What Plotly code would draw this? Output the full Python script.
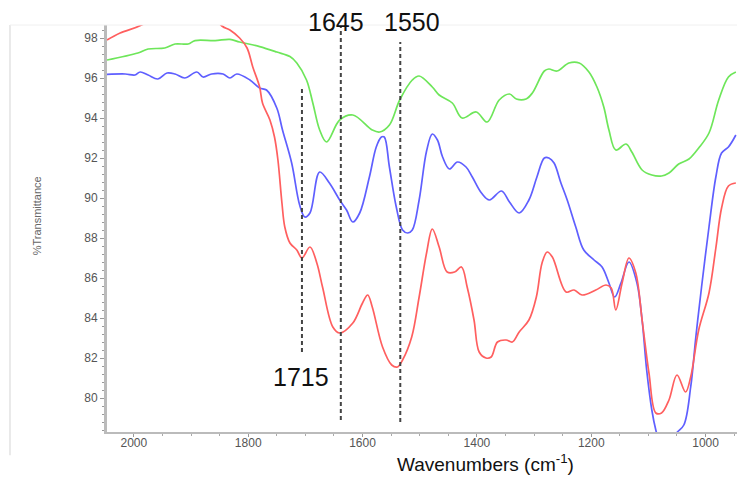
import plotly.graph_objects as go

# ---- data (wavenumber cm^-1, %T) ----
green_x = [2047, 1993, 1975, 1946, 1928, 1905, 1893, 1858, 1832, 1815, 1780, 1750, 1727, 1715,
           1698, 1687, 1675, 1663, 1640, 1617, 1583, 1570, 1553, 1535, 1513, 1501, 1478, 1466,
           1443, 1426, 1401, 1382, 1361, 1343, 1331, 1314, 1303, 1282, 1274, 1260, 1239, 1221,
           1204, 1190, 1178, 1169, 1157, 1139, 1129, 1111, 1094, 1077, 1064, 1047, 1029, 1012,
           994, 977, 960, 947]
green_y = [96.9, 97.25, 97.45, 97.5, 97.7, 97.7, 97.87, 97.87, 97.93, 97.8, 97.57, 97.3, 97.07, 96.75,
           95.9, 94.75, 93.4, 92.8, 93.9, 94.15, 93.4, 93.3, 93.65, 94.9, 95.9, 96.1, 95.55, 95.15,
           94.75, 94.0, 94.3, 93.8, 94.9, 95.2, 94.95, 94.95, 95.25, 96.35, 96.45, 96.35, 96.75, 96.75,
           96.3, 95.55, 94.55, 93.4, 92.4, 92.7, 92.3, 91.4, 91.15, 91.1, 91.25, 91.7, 91.95, 92.5,
           93.25, 94.9, 96.05, 96.3]

blue_x = [2047, 2015, 1998, 1989, 1975, 1958, 1942, 1928, 1911, 1890, 1879, 1864, 1844, 1832, 1820,
          1797, 1780, 1768, 1750, 1740, 1724, 1710, 1701, 1692, 1675, 1658, 1640, 1628, 1617, 1605,
          1588, 1576, 1567, 1562, 1553, 1541, 1530, 1521, 1513, 1501, 1488, 1478, 1469, 1460, 1448,
          1434, 1419, 1408, 1392, 1378, 1357, 1343, 1326, 1309, 1295, 1282, 1274, 1265, 1253, 1242,
          1227, 1213, 1195, 1181, 1169, 1159, 1148, 1134, 1120, 1111, 1103, 1094, 1087, 1070, 1052,
          1038, 1026, 1017, 1007, 994, 982, 972, 960, 947]
blue_y = [96.18, 96.2, 96.15, 96.3, 96.15, 95.95, 96.25, 96.2, 96.0, 96.3, 96.05, 96.2, 96.2, 96.0, 96.2,
          95.9, 95.5, 95.4, 94.5, 93.4, 91.75, 89.65, 89.05, 89.25, 91.3, 90.75, 89.9, 89.4, 88.8, 89.25,
          91.05, 92.55, 93.05, 93.05, 91.55, 89.55, 88.4, 88.25, 88.4, 89.9, 92.35, 93.2, 92.9, 92.05, 91.45,
          91.8, 91.55, 91.05, 90.25, 89.9, 90.35, 89.8, 89.25, 89.9, 91.05, 92.0, 92.0, 91.75, 90.75, 89.9,
          88.55, 87.4, 86.9, 86.55, 85.75, 85.05, 85.75, 86.8, 85.75, 83.9, 81.4, 79.4, 78.4, 76.8, 78.2,
          78.65, 80.55, 83.05, 85.55, 88.55, 91.05, 92.25, 92.55, 93.15]

red_x = [2047, 2024, 1980, 1910, 1846, 1832, 1815, 1802, 1792, 1780, 1775, 1762, 1754, 1748, 1741,
         1736, 1727, 1715, 1706, 1692, 1680, 1670, 1652, 1640, 1617, 1600, 1591, 1583, 1565, 1549,
         1539, 1530, 1514, 1501, 1488, 1478, 1466, 1452, 1439, 1427, 1417, 1405, 1396, 1384, 1375,
         1364, 1349, 1338, 1326, 1309, 1296, 1286, 1277, 1268, 1244, 1230, 1216, 1192, 1174, 1165,
         1157, 1146, 1134, 1122, 1111, 1099, 1087, 1077, 1064, 1050, 1035, 1026, 1012, 994, 982,
         972, 960, 947]
red_y = [97.9, 98.25, 98.75, 100.6, 98.6, 98.4, 98.0, 97.5, 96.55, 95.55, 94.75, 93.9, 93.05, 91.9, 89.75,
         88.55, 87.75, 87.4, 87.0, 87.55, 86.75, 85.55, 83.55, 83.25, 83.75, 84.75, 85.15, 84.55, 82.55, 81.65,
         81.55, 81.9, 83.05, 85.05, 87.25, 88.45, 87.55, 86.3, 86.3, 86.55, 85.55, 83.9, 82.3, 82.0, 82.05,
         82.8, 82.9, 82.8, 83.3, 83.9, 85.05, 86.75, 87.3, 87.05, 85.3, 85.4, 85.15, 85.4, 85.65, 85.5,
         84.4, 85.75, 87.0, 86.25, 83.9, 81.25, 79.25, 79.25, 79.9, 81.15, 80.3, 81.05, 83.4, 85.25, 87.5,
         89.5, 90.6, 90.75]

# marker lines: (x position, y bottom, y top)
mark_x = [1706, 1638, 1534]
mark_y0 = [82.3, 78.9, 78.8]
mark_y1 = [95.5, 98.6, 97.8]

label_text = ["1715", "1645", "1550"]
label_x = [1708, 1647, 1514]

x_ticks = [2000, 1800, 1600, 1400, 1200, 1000]
y_ticks = [80, 82, 84, 86, 88, 90, 92, 94, 96, 98]

fig = go.Figure()
for xs, ys, col in [(green_x, green_y, "rgb(110,230,90)"),
                    (blue_x, blue_y, "rgb(95,95,255)"),
                    (red_x, red_y, "rgb(255,95,95)")]:
    fig.add_trace(go.Scatter(x=xs, y=ys, mode="lines", line=dict(color=col, width=1.7),
                             line_shape="spline", showlegend=False, hoverinfo="skip"))

for mx, a, b in zip(mark_x, mark_y0, mark_y1):
    fig.add_shape(type="line", xref="x", yref="y", x0=mx, x1=mx, y0=a, y1=b,
                  line=dict(color="#444444", width=2, dash="4px,3px"))

# outer frame lines
fig.add_shape(type="line", xref="paper", yref="paper", x0=-0.154, x1=-0.154, y0=-0.057, y1=1,
              line=dict(color="#e3e3e3", width=1.5))
fig.add_shape(type="line", xref="paper", yref="paper", x0=-0.154, x1=1, y0=1, y1=1,
              line=dict(color="#f0f0f0", width=1))

fig.add_annotation(x=label_x[0], y=81.05, xref="x", yref="y", text=label_text[0], showarrow=False,
                   xanchor="center", yanchor="middle",
                   font=dict(family="Liberation Sans, Arial", size=25, color="#111111"))
for t, lx in zip(label_text[1:], label_x[1:]):
    fig.add_annotation(x=lx, y=1.007, xref="x", yref="paper", text=t, showarrow=False,
                       xanchor="center", yanchor="middle",
                       font=dict(family="Liberation Sans, Arial", size=25, color="#111111"))

fig.add_annotation(x=-0.111, y=0.53, xref="paper", yref="paper", text="%Transmittance",
                   showarrow=False, textangle=-90, xanchor="center", yanchor="middle",
                   font=dict(family="Liberation Sans Narrow, Liberation Sans, Arial", size=11, color="#666666"))
fig.add_annotation(x=0.6, y=-0.076, xref="paper", yref="paper",
                   text="Wavenumbers (cm<sup>-1</sup>)", showarrow=False,
                   xanchor="center", yanchor="middle",
                   font=dict(family="Liberation Sans, Arial", size=19, color="#111111"))

fig.update_xaxes(range=[2047, 945], tickvals=x_ticks, ticks="outside", ticklen=3, tickcolor="#999999",
                 showline=True, linecolor="#bbbbbb", linewidth=2, showgrid=False, zeroline=False,
                 ticklabelstandoff=-4,
                 tickfont=dict(family="Liberation Sans, Arial", size=12, color="#555555"),
                 minor=dict(dtick=50, ticks="outside", ticklen=2, tickcolor="#aaaaaa"))
fig.update_yaxes(range=[78.3, 98.65], tickvals=y_ticks, ticks="outside", ticklen=4, tickcolor="#999999",
                 showline=True, linecolor="#bbbbbb", linewidth=3, showgrid=False, zeroline=False,
                 tickfont=dict(family="Liberation Sans, Arial", size=12, color="#555555"),
                 minor=dict(dtick=0.4, ticks="outside", ticklen=2, tickcolor="#999999"))

fig.update_layout(width=737, height=477, margin=dict(l=107, r=0, t=25, b=45),
                  plot_bgcolor="white", paper_bgcolor="white")

fig.write_html("out.html")
